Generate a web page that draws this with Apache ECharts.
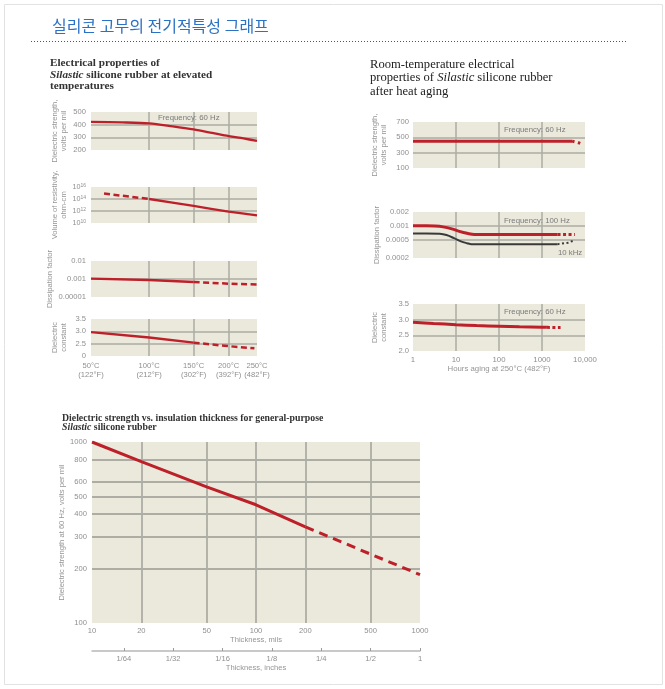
<!DOCTYPE html>
<html><head><meta charset="utf-8">
<script src="https://cdn.jsdelivr.net/npm/echarts@6/dist/echarts.min.js"></script>
<style>html,body{margin:0;padding:0;background:#fff}#c{width:665px;height:689px}</style>
</head><body><div id="c"></div>
<script>
// ---------- DATA ----------
// Left: elevated temperatures
const tempC = [50, 100, 150, 200, 250];
const tempF = [122, 212, 302, 392, 482];
const strengthTemp = [50, 75, 100, 125, 150, 175, 200, 225, 250];
const strengthVal  = [422, 418, 410, 386, 362, 335, 310, 291, 272];
const resistDashTemp = [60, 100];
const resistDashVal  = [8e14, 1e14];
const resistSolidTemp = [100, 150, 200, 250];
const resistSolidVal  = [1e14, 7e12, 8e11, 1.8e11];
const resistTicks = [10, 12, 14, 16];
const dissSolidTemp = [50, 100, 150];
const dissSolidVal  = [1.05e-3, 8.8e-4, 6.8e-4];
const dissDashTemp = [150, 200, 250];
const dissDashVal  = [6.8e-4, 5.5e-4, 4.9e-4];
const dissTickLabels = ['0.00001', '0.001', '0.01'];
const dcSolidTemp = [50, 100, 150];
const dcSolidVal  = [2.97, 2.75, 2.54];
const dcDashTemp = [150, 200, 245];
const dcDashVal  = [2.54, 2.40, 2.31];
const dcTickLabels = ['0', '2.5', '3.0', '3.5'];

// Right: after heat aging
const hourTickLabels = ['1', '10', '100', '1000', '10,000'];
const rsSolidH = [1, 10, 100, 1000, 5000];
const rsSolidV = [450, 450, 450, 450, 450];
const rsDotH = [5000, 7000, 9000];
const rsDotV = [450, 430, 405];
const dfTicks = [0.0002, 0.0005, 0.001, 0.002];
const dfTickLabels = ['0.0002', '0.0005', '0.001', '0.002'];
const dfRedH = [1, 2, 3.2, 5, 8, 12, 18, 27, 100, 1000, 2300];
const dfRedV = [0.001, 0.001, 0.00099, 0.00095, 0.00086, 0.00076, 0.00069, 0.00065, 0.00065, 0.00065, 0.00065];
const dfRedDotH = [2300, 5800];
const dfRedDotV = [0.00065, 0.00065];
const dfBlkH = [1, 2, 4.2, 6, 9, 13, 18, 23, 100, 1000, 2300];
const dfBlkV = [0.00068, 0.00068, 0.00067, 0.00063, 0.00054, 0.00046, 0.00042, 0.0004, 0.0004, 0.0004, 0.0004];
const dfBlkDotH = [2300, 4000, 5500];
const dfBlkDotV = [0.0004, 0.00043, 0.00048];
const rdcSolidH = [1, 3, 10, 30, 100, 300, 1000, 1300];
const rdcSolidV = [2.92, 2.88, 2.84, 2.81, 2.79, 2.77, 2.76, 2.755];
const rdcDotH = [1300, 2000, 2700];
const rdcDotV = [2.755, 2.75, 2.75];

// Bottom: thickness
const milTicks = [10, 20, 50, 100, 200, 500, 1000];
const voltTicks = [100, 200, 300, 400, 500, 600, 800, 1000];
const inchTicks = [1/64, 1/32, 1/16, 1/8, 1/4, 1/2, 1];
const inchTickLabels = ['1/64', '1/32', '1/16', '1/8', '1/4', '1/2', '1'];
const thickSolidMil = [10, 20, 50, 100, 200];
const thickSolidV   = [1000, 780, 565, 450, 340];
const thickDashMil  = [200, 500, 1000];
const thickDashV    = [340, 240, 185];

// ---------- STYLE ----------
const NARROW = '"Liberation Sans Narrow", "Arial Narrow", "Liberation Sans", Arial, sans-serif';
const SERIF = '"Liberation Serif", "Times New Roman", serif';
const RED = '#bd2029';
const GRIDC = '#adada5';
const BG = '#ebe8dc';
const LABC = '#8f8f8f';
const NAMEC = '#959595';

const lg = Math.log10;
const invT = t => 1000 / (t + 273.15);
const ident = v => v;
const near = (arr, v) => { let bi = 0, bd = Infinity; arr.forEach((a, i) => { const d = Math.abs(a - v); if (d < bd) { bd = d; bi = i; } }); return bi; };

function merge(a, b) {
  const o = Object.assign({}, a);
  for (const k in b) {
    if (b[k] && typeof b[k] === 'object' && !Array.isArray(b[k]) && a[k] && typeof a[k] === 'object') o[k] = merge(a[k], b[k]);
    else o[k] = b[k];
  }
  return o;
}
const splitL = w => ({show: true, showMinLine: false, showMaxLine: false, lineStyle: {color: GRIDC, width: w || 1.5}});
const baseAx = {
  type: 'value', axisLine: {show: false}, axisTick: {show: false},
  splitLine: splitL(1.5),
  axisLabel: {color: LABC, fontFamily: NARROW, fontSize: 7.6, margin: 5},
  nameTextStyle: {color: NAMEC, fontFamily: NARROW, fontSize: 7.6, lineHeight: 8.5},
  nameLocation: 'middle'
};
const yAx = o => merge(merge(baseAx, {nameRotate: 90}), o);
const xAx = o => merge(baseAx, o);

function leftX(gi, show) {
  const cv = tempC.map(invT);
  return xAx({gridIndex: gi, inverse: true, min: invT(250), max: invT(50),
    axisTick: {show: false, customValues: cv},
    axisLabel: {show: show, customValues: cv, lineHeight: 9.5, fontSize: 7.6, margin: 5,
      formatter: v => { const i = near(cv, v); return tempC[i] + '°C\n(' + tempF[i] + '°F)'; }}});
}
function rightX(gi, show) {
  return xAx({gridIndex: gi, min: 0, max: 4, interval: 1,
    axisLabel: {show: show, fontSize: 7.8, margin: 5, formatter: v => hourTickLabels[Math.round(v)]},
    name: show ? 'Hours aging at 250°C (482°F)' : '', nameGap: 14, nameTextStyle: {fontSize: 7.8}});
}
function ser(xi, yi, xs, ys, fx, fy, color, width, type, smooth) {
  return {type: 'line', xAxisIndex: xi, yAxisIndex: yi, data: xs.map((x, i) => [fx(x), fy(ys[i])]),
    showSymbol: false, symbol: 'none', smooth: smooth || false, silent: true, z: 5,
    lineStyle: {color: color, width: width, type: type || 'solid', cap: 'butt'}};
}

// ---------- TEXT ----------
function txt(x, y, text, font, extra) {
  return {type: 'text', x: x, y: y, silent: true, z: 100,
    style: Object.assign({text: text, fill: '#333', verticalAlign: 'middle', align: 'left'}, font, extra || {})};
}
const tL = {fontFamily: SERIF, fontSize: 11.2, fontWeight: 'bold', fill: '#333'};
const tR = {fontFamily: SERIF, fontSize: 12.6, fontWeight: 'normal', fill: '#222'};
const tB = {fontFamily: SERIF, fontSize: 9.8, fontWeight: 'bold', fill: '#333'};
const freq = {fontFamily: NARROW, fontSize: 7.8, fill: '#7a7a7a'};
const italicRich = f => ({i: Object.assign({}, f, {fontStyle: 'italic'}), n: Object.assign({}, f)});

const graphics = [
  {type: 'rect', shape: {x: 4.5, y: 4.5, width: 658, height: 680}, style: {fill: 'none', stroke: '#e2e2e2', lineWidth: 1}, silent: true},
  txt(52, 26, '실리콘 고무의 전기적특성 그래프', {fontFamily: '"Noto Sans CJK KR", sans-serif', fontSize: 16, fill: '#2a72c4'}),
  {type: 'line', shape: {x1: 31, y1: 41.5, x2: 628, y2: 41.5}, style: {stroke: '#555', lineWidth: 1, lineDash: [1, 2]}, silent: true},
  txt(50, 63.5, 'Electrical properties of', tL),
  txt(50, 75, '{i|Silastic}{n| silicone rubber at elevated}', tL, {rich: italicRich(tL)}),
  txt(50, 86.5, 'temperatures', tL),
  txt(370, 64.5, 'Room-temperature electrical', tR),
  txt(370, 78, '{n|properties of }{i|Silastic}{n| silicone rubber}', tR, {rich: italicRich(tR)}),
  txt(370, 91.5, 'after heat aging', tR),
  txt(62, 418, 'Dielectric strength vs. insulation thickness for general-purpose', tB),
  txt(62, 427.5, '{i|Silastic}{n| silicone rubber}', tB, {rich: italicRich(tB)}),
  txt(158, 118, 'Frequency: 60 Hz', freq),
  txt(504, 130, 'Frequency: 60 Hz', freq),
  txt(504, 221, 'Frequency: 100 Hz', freq),
  txt(558, 253, '10 kHz', freq),
  txt(504, 312, 'Frequency: 60 Hz', freq)
];

// ---------- OPTION ----------
const gridBase = {show: true, backgroundColor: BG, borderWidth: 0, containLabel: false};
const option = {
  animation: false,
  backgroundColor: '#fff',
  grid: [
    {left: 91, top: 112, width: 166, height: 38},
    {left: 91, top: 187, width: 166, height: 36},
    {left: 91, top: 261, width: 166, height: 36},
    {left: 91, top: 319, width: 166, height: 37},
    {left: 413, top: 122, width: 172, height: 46},
    {left: 413, top: 212, width: 172, height: 46},
    {left: 413, top: 304, width: 172, height: 47},
    {left: 92, top: 442, width: 328, height: 181}
  ].map(g => Object.assign({}, gridBase, g)),
  xAxis: [
    leftX(0, false), leftX(1, false), leftX(2, false), leftX(3, true),
    rightX(4, false), rightX(5, false), rightX(6, true),
    xAx({gridIndex: 7, min: 1, max: 3, splitLine: splitL(1.8),
      axisTick: {show: false, customValues: milTicks.map(lg)},
      axisLabel: {customValues: milTicks.map(lg), margin: 4, formatter: v => String(milTicks[near(milTicks.map(lg), v)])},
      name: 'Thickness, mils', nameGap: 12}),
    xAx({gridIndex: 7, min: -2, max: 0, position: 'bottom', offset: 28,
      axisLine: {show: true, lineStyle: {color: '#b8b8b8', width: 1.5}},
      axisTick: {show: true, inside: true, length: 3, lineStyle: {color: '#9a9a9a', width: 1}, customValues: inchTicks.map(lg)},
      splitLine: {show: false},
      axisLabel: {customValues: inchTicks.map(lg), margin: 4, formatter: v => inchTickLabels[near(inchTicks.map(lg), v)]},
      name: 'Thickness, inches', nameGap: 11})
  ],
  yAxis: [
    yAx({gridIndex: 0, min: 200, max: 500, interval: 100, name: 'Dielectric strength,\nvolts per mil', nameGap: 23}),
    yAx({gridIndex: 1, min: 10, max: 16, interval: 2, name: 'Volume of resistivity,\nohm-cm', nameGap: 23,
      axisLabel: {formatter: v => '{b|10}{s|' + Math.round(v) + '}',
        rich: {b: {fontFamily: NARROW, fontSize: 7.2, color: LABC}, s: {fontFamily: NARROW, fontSize: 5, color: LABC, verticalAlign: 'top', padding: [0, 0, 3, 0]}}}}),
    yAx({gridIndex: 2, min: -4, max: -2, interval: 1, name: 'Dissipation factor', nameGap: 31,
      axisLabel: {formatter: v => dissTickLabels[Math.round(v) + 4]}}),
    yAx({gridIndex: 3, min: 2, max: 3.5, interval: 0.5, name: 'Dielectric\nconstant', nameGap: 23,
      axisLabel: {formatter: v => dcTickLabels[Math.round((v - 2) * 2)]}}),
    yAx({gridIndex: 4, min: 100, max: 700, interval: 200, name: 'Dielectric strength,\nvolts per mil', nameGap: 25, axisLabel: {margin: 4}}),
    yAx({gridIndex: 5, min: lg(0.0002), max: lg(0.002), name: 'Dissipation factor', nameGap: 32,
      axisTick: {show: false, customValues: dfTicks.map(lg)},
      axisLabel: {margin: 4, customValues: dfTicks.map(lg), formatter: v => dfTickLabels[near(dfTicks.map(lg), v)]}}),
    yAx({gridIndex: 6, min: 2, max: 3.5, interval: 0.5, name: 'Dielectric\nconstant', nameGap: 25,
      axisLabel: {margin: 4, formatter: v => v.toFixed(1)}}),
    yAx({gridIndex: 7, min: 2, max: 3, splitLine: splitL(1.8), name: 'Dielectric strength at 60 Hz, volts per mil', nameGap: 23,
      axisTick: {show: false, customValues: voltTicks.map(lg)},
      axisLabel: {margin: 5, customValues: voltTicks.map(lg), formatter: v => String(voltTicks[near(voltTicks.map(lg), v)])}})
  ],
  graphic: graphics,
  series: [
    ser(0, 0, strengthTemp, strengthVal, invT, ident, RED, 2.3, 'solid', 0.3),
    ser(1, 1, resistDashTemp, resistDashVal, invT, lg, RED, 2.5, [6, 3.5]),
    ser(1, 1, resistSolidTemp, resistSolidVal, invT, lg, RED, 2.3, 'solid', 0.2),
    ser(2, 2, dissSolidTemp, dissSolidVal, invT, lg, RED, 2.3),
    ser(2, 2, dissDashTemp, dissDashVal, invT, lg, RED, 2.5, [6, 3.5]),
    ser(3, 3, dcSolidTemp, dcSolidVal, invT, ident, RED, 2.3),
    ser(3, 3, dcDashTemp, dcDashVal, invT, ident, RED, 2.5, [6, 3.5]),
    ser(4, 4, rsSolidH, rsSolidV, lg, ident, RED, 3),
    ser(4, 4, rsDotH, rsDotV, lg, ident, RED, 3, [2.5, 3.5]),
    ser(5, 5, dfRedH, dfRedV, lg, lg, RED, 3, 'solid', 0.4),
    ser(5, 5, dfRedDotH, dfRedDotV, lg, lg, RED, 3, [3, 2.5]),
    ser(5, 5, dfBlkH, dfBlkV, lg, lg, '#3a3a3a', 2, 'solid', 0.4),
    ser(5, 5, dfBlkDotH, dfBlkDotV, lg, lg, '#3a3a3a', 2, [2, 2.5]),
    ser(6, 6, rdcSolidH, rdcSolidV, lg, ident, RED, 3, 'solid', 0.3),
    ser(6, 6, rdcDotH, rdcDotV, lg, ident, RED, 3, [3, 2.5]),
    ser(7, 7, thickSolidMil, thickSolidV, lg, lg, RED, 3),
    ser(8, 7, thickDashMil, thickDashV, v => lg(v / 1000), lg, RED, 3, [9, 6])
  ]
};
const chart = echarts.init(document.getElementById('c'), null, {renderer: 'canvas'});
chart.setOption(option);
</script></body></html>
